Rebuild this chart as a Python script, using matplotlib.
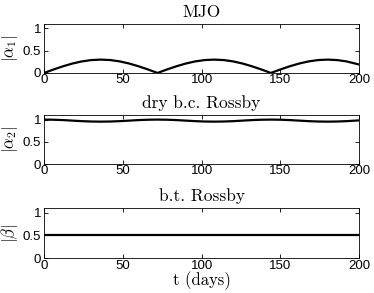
import matplotlib
matplotlib.use("Agg")
import matplotlib.pyplot as plt
import numpy as np

plt.rcParams['mathtext.fontset'] = 'cm'
plt.rcParams['font.family'] = ['Liberation Sans', 'DejaVu Sans']

# time axis (days)
t_days = [0, 6, 12, 18, 24, 30, 36, 42, 48, 54, 60, 66, 72,
          78, 84, 90, 96, 102, 108, 114, 120, 126, 132, 138, 144,
          150, 156, 162, 168, 174, 180, 186, 192, 200]

# |alpha_1| : arches
alpha1 = [0.0, 0.078, 0.15, 0.212, 0.26, 0.29, 0.30, 0.29, 0.26, 0.212, 0.15, 0.078, 0.0,
          0.078, 0.15, 0.212, 0.26, 0.29, 0.30, 0.29, 0.26, 0.212, 0.15, 0.078, 0.0,
          0.078, 0.15, 0.212, 0.26, 0.29, 0.30, 0.29, 0.26, 0.19]

# |alpha_2| : slight wiggle near 1
alpha2 = [1.0, 0.997, 0.989, 0.977, 0.965, 0.957, 0.954, 0.957, 0.965, 0.977, 0.989, 0.997, 1.0,
          0.997, 0.989, 0.977, 0.965, 0.957, 0.954, 0.957, 0.965, 0.977, 0.989, 0.997, 1.0,
          0.997, 0.989, 0.977, 0.965, 0.957, 0.954, 0.957, 0.965, 0.982]

# |beta| : constant
beta = [0.5] * len(t_days)

titles = ['MJO', 'dry b.c. Rossby', 'b.t. Rossby']
ylabels = [r'$|\alpha_1|$', r'$|\alpha_2|$', r'$|\beta|$']
series = [alpha1, alpha2, beta]

fig = plt.figure(figsize=(3.74, 2.93), dpi=100)
rects = [[0.118, 0.751, 0.842, 0.167],
         [0.118, 0.440, 0.842, 0.167],
         [0.118, 0.119, 0.842, 0.170]]

for i in range(3):
    ax = fig.add_axes(rects[i])
    ax.plot(t_days, series[i], color='black', lw=1.6)
    ax.set_xlim(0, 200)
    ax.set_ylim(0, 1.1)
    ax.set_xticks([0, 50, 100, 150, 200])
    ax.set_yticks([0, 0.5, 1])
    ax.set_yticklabels(['0', '0.5', '1'])
    ax.tick_params(direction='in', top=True, right=True, length=3,
                   labelsize=9.5, width=0.6)
    ax.tick_params(axis='x', pad=1)
    ax.tick_params(axis='y', pad=2)
    for s in ax.spines.values():
        s.set_linewidth(0.6)
    ax.set_title(titles[i], fontsize=12.5, family='cmr10', pad=5)
    ax.set_ylabel(ylabels[i], fontsize=12, labelpad=2)

ax.set_xlabel('t (days)', fontsize=12, family='cmr10', labelpad=0)

fig.savefig('out.png', dpi=100)
